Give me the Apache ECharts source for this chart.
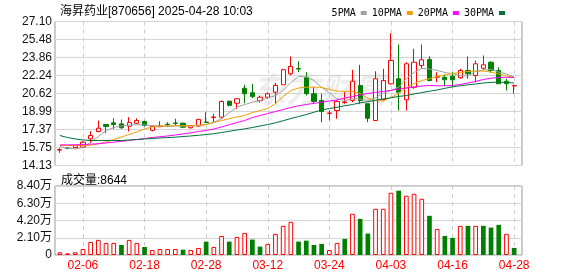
<!DOCTYPE html>
<html>
<head>
<meta charset="utf-8">
<script src="https://cdn.jsdelivr.net/npm/echarts@6/dist/echarts.min.js"></script>
<style>
html,body{margin:0;padding:0;background:#fff;}
#c{width:578px;height:276px;}
</style>
</head>
<body>
<div id="c"></div>
<script>
const dates = ['02-03','02-04','02-05','02-06','02-07','02-10','02-11','02-12','02-13','02-14','02-17','02-18','02-19','02-20','02-21','02-24','02-25','02-26','02-27','02-28',
'03-03','03-04','03-05','03-06','03-07','03-10','03-11','03-12','03-13','03-14','03-17','03-18','03-19','03-20','03-21','03-24','03-25','03-26','03-27','03-28','03-31',
'04-01','04-02','04-03','04-07','04-08','04-09','04-10','04-11','04-14','04-15','04-16','04-17','04-18','04-21','04-22','04-23','04-24','04-25','04-28'];
const tickDates = ['02-06','02-18','02-28','03-12','03-24','04-03','04-16','04-28'];
const priceTicks = ['14.13','15.75','17.37','18.99','20.62','22.24','23.86','25.48','27.10'];
const volTicks = ['0','2.10万','4.20万','6.30万','8.40万'];
const volMax = 84000;

const open  = [15.52,15.70,15.75,15.78,16.53,17.19,17.82,17.97,17.88,17.67,17.94,18.09,17.30,17.63,17.85,17.96,17.94,17.53,17.68,18.05,
               18.45,18.48,19.92,19.74,21.09,20.68,19.98,20.28,20.73,21.40,22.39,22.86,22.08,20.59,19.99,18.82,19.08,19.80,19.99,21.34,
               19.69,18.18,20.08,21.49,21.94,20.05,21.18,23.14,23.68,22.08,22.08,22.17,22.03,22.69,22.24,22.89,23.43,22.69,21.72,21.30];
const close = [15.56,15.67,15.93,16.23,16.83,17.49,17.64,17.82,17.53,18.00,18.18,17.73,17.66,17.67,17.82,17.92,17.58,17.73,18.28,18.00,
               18.50,19.90,19.55,20.14,20.59,20.34,20.28,20.59,21.34,22.75,23.05,22.82,20.59,19.90,18.99,18.86,19.90,19.85,21.72,19.99,
               18.39,21.94,21.78,23.59,20.73,23.29,23.43,23.65,21.79,22.15,21.85,21.85,22.69,22.39,23.29,23.20,22.69,21.49,21.49,21.34];
const low   = [15.27,15.60,15.69,15.69,16.14,17.13,17.04,17.43,17.43,17.19,17.88,17.64,17.20,17.58,17.64,17.73,17.50,17.45,17.66,17.95,
               18.03,18.34,19.45,19.24,19.74,20.19,19.80,20.14,19.69,21.40,22.24,22.53,20.43,19.69,18.03,18.18,18.34,19.69,19.83,19.69,
               18.03,18.18,19.99,21.43,19.08,19.08,21.04,22.84,21.72,21.63,21.27,21.18,21.94,21.94,21.63,22.75,22.48,21.49,20.88,20.59];
const high  = [15.69,15.78,15.99,16.32,17.22,18.18,17.88,18.39,18.27,18.48,18.39,18.18,17.68,18.12,18.03,18.34,18.00,17.78,18.34,18.93,
               18.78,19.99,19.97,20.19,21.40,21.49,20.43,20.73,21.55,22.84,23.95,23.52,22.53,21.18,20.59,19.09,19.99,20.73,22.75,23.20,
               19.69,22.62,22.84,26.05,25.03,23.43,24.64,25.03,23.97,22.53,22.33,22.53,22.84,23.95,23.59,24.04,23.52,22.98,21.94,21.40];

const ma5  = [15.84,15.69,15.62,15.75,16.20,16.74,17.28,17.55,17.69,17.78,17.80,17.78,17.73,17.69,17.64,17.69,17.69,17.69,17.73,17.82,
              18.03,18.33,18.90,19.38,19.62,19.83,19.99,20.21,20.43,20.89,21.61,22.15,22.10,21.79,21.16,20.71,20.12,19.99,20.12,20.12,
              19.99,20.23,20.62,20.89,21.18,21.94,22.51,22.87,22.82,22.69,22.51,22.39,22.23,22.19,22.60,22.73,22.78,22.55,22.37,22.08];
const ma10 = [15.93,15.93,15.92,15.93,15.95,16.08,16.25,16.47,16.70,16.92,17.15,17.42,17.60,17.69,17.71,17.71,17.71,17.71,17.73,17.82,
              18.00,18.18,18.34,18.50,18.63,18.90,19.08,19.26,19.71,20.34,20.88,21.11,21.18,21.20,21.16,20.98,20.84,20.80,20.80,20.62,
              20.17,19.99,19.94,20.26,20.66,21.11,21.52,21.79,21.94,22.15,22.28,22.42,22.51,22.60,22.64,22.64,22.55,22.37,22.19,22.08];
const ma20 = [15.99,15.99,16.00,16.02,16.05,16.09,16.16,16.23,16.31,16.38,16.47,16.56,16.65,16.72,16.79,16.88,16.97,17.07,17.19,17.28,
              17.42,17.60,17.80,18.00,18.18,18.45,18.63,18.81,18.99,19.17,19.35,19.51,19.62,19.73,19.83,19.94,20.03,20.21,20.34,20.48,
              20.62,20.71,20.80,20.90,21.02,21.11,21.20,21.29,21.34,21.31,21.31,21.34,21.43,21.56,21.70,21.88,21.99,22.06,22.07,22.06];
const ma30 = [16.83,16.65,16.52,16.43,16.38,16.38,16.38,16.38,16.38,16.43,16.47,16.52,16.56,16.61,16.65,16.68,16.74,16.79,16.85,16.92,
              16.99,17.10,17.21,17.33,17.43,17.55,17.69,17.82,17.98,18.16,18.36,18.54,18.72,18.93,19.13,19.26,19.37,19.51,19.62,19.78,
              19.88,20.00,20.12,20.23,20.35,20.43,20.57,20.70,20.82,20.93,21.08,21.22,21.31,21.40,21.47,21.56,21.62,21.63,21.61,21.56];

const volume = [3300,2000,3300,7300,15900,18400,14700,14700,12200,18400,14700,9800,6100,7300,7300,7300,6500,6100,8600,16300,
                9800,23200,16300,22000,26900,18800,10200,13500,25700,35500,40400,16300,17500,12200,13500,6100,14700,19600,50200,44000,
                26100,56300,56300,75800,78300,72200,74600,68500,47700,31800,23200,20800,35500,35500,35500,35500,33400,36700,25700,8644];
const volUp = [1,1,1,1,1,1,1,1,0,1,1,0,1,1,1,1,0,1,1,0,
               1,1,0,1,1,0,0,1,1,1,1,0,0,0,0,1,1,0,1,0,
               0,1,1,1,0,1,1,1,0,1,0,0,1,0,1,0,0,0,1,0];

const maNames = ['5PMA','10PMA','20PMA','30PMA'];
const maColors = ['#a0a0a0','#f0a000','#ff00ff','#00703a'];
const maData = [ma5, ma10, ma20, ma30];

const RED = '#ff0000', GREEN = '#008000';
const FONT = '"Liberation Sans", "Noto Sans CJK SC", sans-serif';
const showTick = (i, v) => tickDates.indexOf(v) >= 0;

const chart = echarts.init(document.getElementById('c'), null, {renderer: 'canvas'});

const priceMin = Number(priceTicks[0]);
const priceMax = Number(priceTicks[priceTicks.length - 1]);

const option = {
  animation: false,
  backgroundColor: '#fff',
  title: [
    {text: '海昇药业[870656] 2025-04-28 10:03', left: 55, top: 1,
     textStyle: {fontSize: 12, fontWeight: 'normal', color: '#000', fontFamily: FONT}},
    {text: '成交量:' + volume[volume.length - 1], left: 56, top: 170,
     textStyle: {fontSize: 12, fontWeight: 'normal', color: '#000', fontFamily: FONT}}
  ],
  legend: {
    data: maNames, right: 68, top: 3, align: 'right', icon: 'rect',
    itemWidth: 6, itemHeight: 4, itemGap: 5,
    textStyle: {fontSize: 10, color: '#000', fontFamily: '"DejaVu Sans Mono", monospace'}
  },
  graphic: [{
    type: 'text', left: 252, top: 72, z: 0, silent: true,
    style: {text: '东方财富', fontSize: 34, fontWeight: 'bold', fontStyle: 'italic',
            fill: 'rgba(0,0,0,0.07)', fontFamily: '"Noto Sans CJK SC", sans-serif'}
  }],
  grid: [
    {left: 55, right: 56, top: 21.5, height: 144, show: true, borderColor: '#999', borderWidth: 1, backgroundColor: 'transparent'},
    {left: 56, width: 462, top: 21.5, height: 144},
    {left: 55, right: 56, top: 186, height: 69, show: true, borderColor: '#999', borderWidth: 1, backgroundColor: 'transparent'},
    {left: 56, width: 462, top: 186, height: 69}
  ],
  xAxis: [
    {type: 'value', gridIndex: 0, min: 0, max: 1, show: false},
    {type: 'category', gridIndex: 1, data: dates, boundaryGap: true,
     axisLine: {show: false}, axisTick: {show: false}, axisLabel: {show: false},
     splitLine: {show: true, interval: showTick, alignWithLabel: true, lineStyle: {color: '#cccccc', type: [4, 4], width: 1}}},
    {type: 'value', gridIndex: 2, min: 0, max: 1, show: false},
    {type: 'category', gridIndex: 3, data: dates, boundaryGap: true,
     axisLine: {show: false}, axisTick: {show: false},
     axisLabel: {show: true, interval: showTick, color: RED, fontSize: 12, margin: 5, fontFamily: FONT},
     splitLine: {show: true, interval: showTick, alignWithLabel: true, lineStyle: {color: '#cccccc', type: [4, 4], width: 1}}}
  ],
  yAxis: [
    {type: 'value', gridIndex: 0, min: 0, max: priceTicks.length - 1, interval: 1,
     axisLine: {show: false}, axisTick: {show: false},
     axisLabel: {margin: 3, fontSize: 12, color: '#111', fontFamily: FONT,
                 formatter: v => priceTicks[Math.round(v)]},
     splitLine: {show: true, lineStyle: {color: '#d4d4d4', width: 1}}},
    {type: 'value', gridIndex: 1, min: priceMin, max: priceMax, show: false},
    {type: 'value', gridIndex: 2, min: 0, max: volMax, interval: volMax / (volTicks.length - 1),
     axisLine: {show: false}, axisTick: {show: false},
     axisLabel: {margin: 3, fontSize: 12, color: '#111', fontFamily: FONT,
                 formatter: v => volTicks[Math.round(v / (volMax / (volTicks.length - 1)))]},
     splitLine: {show: true, lineStyle: {color: '#d4d4d4', width: 1}}},
    {type: 'value', gridIndex: 3, min: 0, max: volMax, show: false}
  ],
  series: [
    {
      type: 'candlestick', name: 'K', xAxisIndex: 1, yAxisIndex: 1, z: 3,
      barWidth: '62%',
      data: dates.map((d, i) => [open[i], close[i], low[i], high[i]]),
      itemStyle: {color: '#ffffff', color0: GREEN, borderColor: RED, borderColor0: GREEN, borderWidth: 1}
    },
    ...maNames.map((n, k) => ({
      type: 'line', name: n, xAxisIndex: 1, yAxisIndex: 1, z: 4,
      data: maData[k], showSymbol: false, symbol: 'none', smooth: false,
      lineStyle: {color: maColors[k], width: 1}, itemStyle: {color: maColors[k]}
    })),
    {
      type: 'bar', name: 'VOL', xAxisIndex: 3, yAxisIndex: 3, barWidth: '61%', z: 3,
      data: volume.map((v, i) => ({
        value: v,
        itemStyle: volUp[i] ? {color: '#ffffff', borderColor: RED, borderWidth: 1} : {color: GREEN, borderColor: GREEN, borderWidth: 0}
      }))
    }
  ]
};
chart.setOption(option);
</script>
</body>
</html>
